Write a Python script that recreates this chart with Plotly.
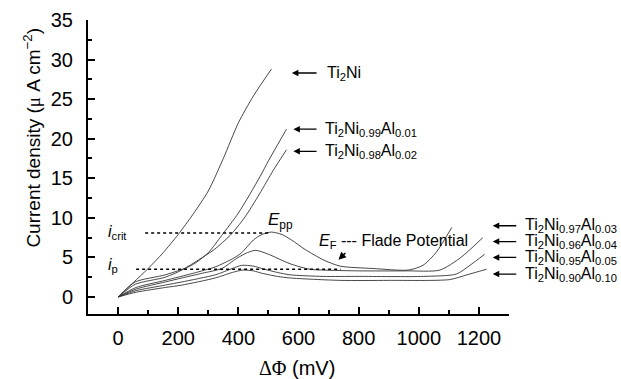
import plotly.graph_objects as go

# ---- data ----
ti2ni_x = [0, 50, 100, 150, 200, 250, 300, 350, 400, 450, 510]
ti2ni_y = [0, 1.8, 3.6, 5.6, 7.9, 10.5, 13.4, 17.5, 22.0, 25.4, 28.8]

al01_x = [0, 57, 157, 245, 300, 345, 400, 472, 500, 560]
al01_y = [0, 1.9, 2.8, 4.0, 5.6, 7.8, 10.6, 15.2, 17.2, 21.2]

al02_x = [0, 57, 157, 212, 268, 320, 373, 420, 470, 516, 560]
al02_y = [0, 1.6, 2.5, 3.4, 4.7, 6.0, 7.8, 10.0, 13.0, 16.0, 18.6]

al03_x = [0, 60, 157, 250, 323, 384, 411, 450, 478, 510, 545, 577, 622, 682, 738, 848, 965, 1014, 1059, 1110]
al03_y = [0, 1.2, 2.1, 3.0, 3.8, 4.9, 5.6, 7.2, 7.9, 8.2, 7.9, 7.2, 6.0, 4.7, 3.9, 3.6, 3.4, 4.0, 5.7, 8.8]

al04_x = [0, 60, 157, 212, 280, 345, 395, 430, 458, 500, 572, 638, 682, 800, 959, 1070, 1140, 1213]
al04_y = [0, 1.0, 1.9, 2.4, 3.0, 3.6, 4.9, 5.6, 5.9, 5.4, 4.2, 3.5, 3.4, 3.3, 3.3, 3.4, 5.0, 7.5]

al05_x = [0, 60, 157, 212, 323, 380, 411, 450, 478, 530, 572, 682, 800, 1015, 1125, 1170, 1219]
al05_y = [0, 0.8, 1.5, 1.9, 2.8, 3.6, 4.0, 3.9, 3.6, 3.1, 2.8, 2.6, 2.6, 2.6, 2.9, 4.0, 5.4]

al10_x = [0, 60, 157, 212, 323, 380, 415, 450, 478, 530, 572, 738, 900, 1103, 1160, 1225]
al10_y = [0, 0.6, 1.2, 1.5, 2.4, 3.1, 3.4, 3.3, 3.0, 2.6, 2.4, 2.1, 2.1, 2.2, 2.8, 3.5]

icrit_x = [90, 505]
icrit_y = [8.1, 8.1]
ip_x = [60, 740]
ip_y = [3.5, 3.5]

x_ticks = [0, 200, 400, 600, 800, 1000, 1200]
y_ticks = [0, 5, 10, 15, 20, 25, 30, 35]

series = [
    ("Ti<sub>2</sub>Ni", ti2ni_x, ti2ni_y),
    ("Ti<sub>2</sub>Ni<sub>0.99</sub>Al<sub>0.01</sub>", al01_x, al01_y),
    ("Ti<sub>2</sub>Ni<sub>0.98</sub>Al<sub>0.02</sub>", al02_x, al02_y),
    ("Ti<sub>2</sub>Ni<sub>0.97</sub>Al<sub>0.03</sub>", al03_x, al03_y),
    ("Ti<sub>2</sub>Ni<sub>0.96</sub>Al<sub>0.04</sub>", al04_x, al04_y),
    ("Ti<sub>2</sub>Ni<sub>0.95</sub>Al<sub>0.05</sub>", al05_x, al05_y),
    ("Ti<sub>2</sub>Ni<sub>0.90</sub>Al<sub>0.10</sub>", al10_x, al10_y),
]

FONT = "Liberation Sans, Arial, Helvetica, sans-serif"
SERIF = "Liberation Serif"

fig = go.Figure()
for name, xs, ys in series:
    fig.add_trace(go.Scatter(x=xs, y=ys, mode="lines", name=name,
                             line=dict(color="#333333", width=0.9, shape="spline", smoothing=0.7),
                             showlegend=False, hoverinfo="skip"))
for xs, ys in [(icrit_x, icrit_y), (ip_x, ip_y)]:
    fig.add_trace(go.Scatter(x=xs, y=ys, mode="lines",
                             line=dict(color="black", width=1.5, dash="dot"),
                             showlegend=False, hoverinfo="skip"))

ann = []

def px2paper(mv):
    return (mv + 100) / 1400.0

PX_PER_MV = 421.0 / 1400.0

right_labels = [
    (series[0][0], 688, 578, 665, 28.3),
    (series[1][0], 680, 583, 665, 21.2),
    (series[2][0], 680, 583, 665, 18.4),
    (series[3][0], 1345, 1246, 1329, 9.0),
    (series[4][0], 1345, 1246, 1329, 7.0),
    (series[5][0], 1345, 1246, 1329, 5.0),
    (series[6][0], 1345, 1246, 1329, 2.9),
]
for text, tx, hx, tailx, yy in right_labels:
    ann.append(dict(x=px2paper(tx), xref="paper", y=yy, yref="y", text=text,
                    showarrow=False, xanchor="left", yanchor="middle",
                    font=dict(family=FONT, size=16, color="black")))
    ann.append(dict(x=px2paper(hx), xref="paper", y=yy, yref="y", text="",
                    showarrow=True, ax=(tailx - hx) * PX_PER_MV, ay=0,
                    axref="pixel", ayref="pixel",
                    arrowhead=2, arrowsize=1, arrowwidth=1.3, arrowcolor="black"))

ann.append(dict(x=-39, y=8.2, xref="x", yref="y", text="<i>i</i><sub>crit</sub>",
                showarrow=False, xanchor="left", yanchor="middle",
                font=dict(family=FONT, size=16, color="black")))
ann.append(dict(x=-39, y=4.0, xref="x", yref="y", text="<i>i</i><sub>p</sub>",
                showarrow=False, xanchor="left", yanchor="middle",
                font=dict(family=FONT, size=16, color="black")))
ann.append(dict(x=492, y=9.6, xref="x", yref="y", text="<i>E</i><sub>pp</sub>",
                showarrow=False, xanchor="left", yanchor="middle",
                font=dict(family=FONT, size=17, color="black")))
ann.append(dict(x=660, y=7.0, xref="x", yref="y", text="<i>E</i><sub>F</sub> --- Flade Potential",
                showarrow=False, xanchor="left", yanchor="middle",
                font=dict(family=FONT, size=16, color="black")))
ann.append(dict(x=733, y=4.7, xref="x", yref="y", text="", showarrow=True,
                ax=761, ay=5.75, axref="x", ayref="y",
                arrowhead=2, arrowsize=1, arrowwidth=1.5, arrowcolor="black"))

# axis titles
ann.append(dict(x=-0.133, y=0.6, xref="paper", yref="paper", textangle=-90,
                text="Current density (<span style=\"font-family:%s\">μ</span> A cm<sup>−2</sup>)" % SERIF,
                showarrow=False, xanchor="center", yanchor="middle",
                font=dict(family=FONT, size=19, color="black")))
ann.append(dict(x=0.496, y=-0.184, xref="paper", yref="paper",
                text="<span style=\"font-family:%s\">ΔΦ</span> (mV)" % SERIF,
                showarrow=False, xanchor="center", yanchor="middle",
                font=dict(family=FONT, size=20, color="black")))

axis_common = dict(showgrid=False, zeroline=False, showline=True, linecolor="black",
                   linewidth=2, ticks="inside", ticklen=7, tickwidth=2, tickcolor="black",
                   automargin=False,
                   tickfont=dict(family=FONT, size=20, color="black"))

fig.update_layout(
    width=621, height=379,
    margin=dict(l=88, r=112, t=20, b=65),
    paper_bgcolor="white", plot_bgcolor="white",
    xaxis=dict(range=[-100, 1300], tickvals=x_ticks, ticklabelstandoff=5,
               minor=dict(ticks="inside", dtick=100, tick0=-100, ticklen=4, tickwidth=1.5, tickcolor="black"),
               **axis_common),
    yaxis=dict(range=[-2.15, 35], tickvals=y_ticks, ticklabelstandoff=9,
               minor=dict(ticks="inside", dtick=2.5, tick0=0, ticklen=4, tickwidth=1.5, tickcolor="black"),
               **axis_common),
    annotations=ann,
)

fig.write_html("out.html", config={"displayModeBar": False},
               post_script="document.body.style.margin='0px';")
